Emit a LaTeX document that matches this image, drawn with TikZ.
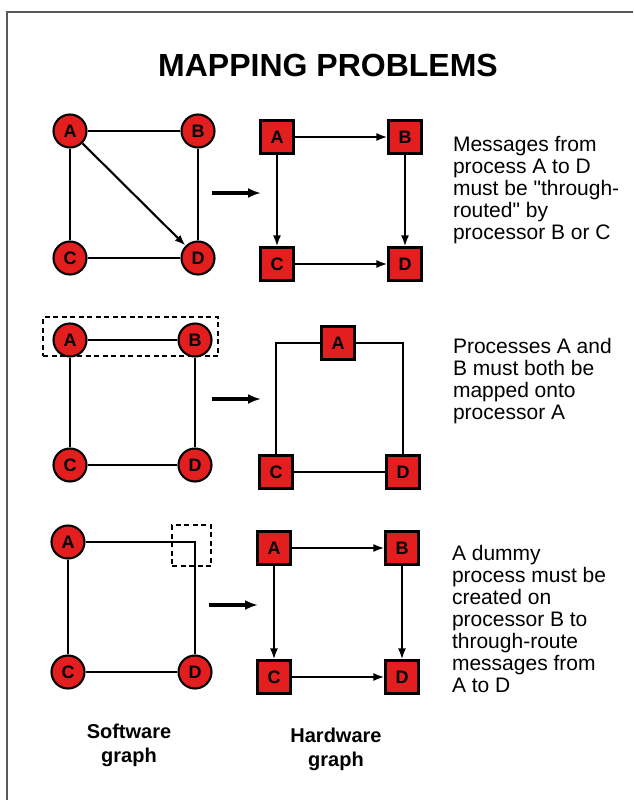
\documentclass[tikz,border=0pt]{standalone}
\usepackage{fontspec}
\setmainfont{Liberation Sans}
\usetikzlibrary{arrows.meta}
\definecolor{procred}{RGB}{226,30,30}
\begin{document}
\begin{tikzpicture}[x=1pt, y=-1pt, line width=2.1pt,
  swnode/.style={circle, draw, fill=procred, minimum size=33pt, inner sep=0pt, font=\bfseries\fontsize{18}{18}\selectfont},
  hwnode/.style={rectangle, draw, fill=procred, minimum size=33pt, inner sep=0pt, font=\bfseries\fontsize{18}{18}\selectfont},
  link/.style={-{Latex[length=11pt,width=8pt]}},
  maparrow/.style={line width=3.2pt, -{Latex[length=13pt,width=10pt]}},
  groupbox/.style={draw, line width=1.4pt, dash pattern=on 5pt off 3.5pt, inner sep=0pt},
  note/.style={anchor=north west, align=left, inner sep=0pt, font=\fontsize{21}{22}\selectfont},
  caption/.style={align=center, inner sep=0pt, font=\bfseries\fontsize{20}{24}\selectfont}]
  \useasboundingbox (0,0) rectangle (633,800);
  % 테두리
  \draw[line width=1.3pt, black!65] (7,800) -- (7,12) -- (633,12);
  \node[font=\bfseries\fontsize{32}{32}\selectfont] (title) at (328,65) {MAPPING PROBLEMS};
  % 1
  \node[swnode] (A1) at (70,131) {A}; \node[swnode] (B1) at (198,131) {B};
  \node[swnode] (C1) at (70,258) {C}; \node[swnode] (D1) at (198,258) {D};
  \draw (A1) -- (B1) (A1) -- (C1) (B1) -- (D1) (C1) -- (D1);
  \draw[link] (A1) -- (D1);
  \coordinate (m1a) at (212,193); \coordinate (m1b) at (261,193);
  \draw[maparrow] (m1a) -- (m1b);
  \node[hwnode] (hA1) at (277,137) {A}; \node[hwnode] (hB1) at (405,137) {B};
  \node[hwnode] (hC1) at (277,264) {C}; \node[hwnode] (hD1) at (405,264) {D};
  \draw[link] (hA1) -- (hB1); \draw[link] (hA1) -- (hC1);
  \draw[link] (hB1) -- (hD1); \draw[link] (hC1) -- (hD1);
  \node[note] (txt1) at (452,135) {Messages from\\process A to D\\must be \textquotedbl through-\\routed\textquotedbl{} by\\processor B or C};
  % 2
  \node[groupbox, minimum width=175pt, minimum height=39pt] (grp) at (130.5,336.5) {};
  \node[swnode] (A2) at (70,340) {A}; \node[swnode] (B2) at (195,340) {B};
  \node[swnode] (C2) at (70,465) {C}; \node[swnode] (D2) at (195,465) {D};
  \draw (A2) -- (B2) (A2) -- (C2) (B2) -- (D2) (C2) -- (D2);
  \coordinate (m2a) at (212,399); \coordinate (m2b) at (261,399);
  \draw[maparrow] (m2a) -- (m2b);
  \node[hwnode] (hA2) at (338,343) {A};
  \node[hwnode] (hC2) at (276,472) {C}; \node[hwnode] (hD2) at (403,472) {D};
  \draw (hA2.west) -| (hC2.north); \draw (hA2.east) -| (hD2.north);
  \draw (hC2) -- (hD2);
  \node[note] (txt2) at (452,337) {Processes A and\\B must both be\\mapped onto\\processor A};
  % 3
  \node[groupbox, minimum width=39pt, minimum height=41pt] (dummy) at (191.5,545.5) {};
  \node[swnode] (A3) at (68,542) {A};
  \node[swnode] (C3) at (68,672) {C}; \node[swnode] (D3) at (195,672) {D};
  \draw (A3.east) -| (D3.north);
  \draw (A3) -- (C3) (C3) -- (D3);
  \coordinate (m3a) at (209,605); \coordinate (m3b) at (258,605);
  \draw[maparrow] (m3a) -- (m3b);
  \node[hwnode] (hA3) at (274,548) {A}; \node[hwnode] (hB3) at (402,548) {B};
  \node[hwnode] (hC3) at (274,677) {C}; \node[hwnode] (hD3) at (402,677) {D};
  \draw[link] (hA3) -- (hB3); \draw[link] (hA3) -- (hC3);
  \draw[link] (hB3) -- (hD3); \draw[link] (hC3) -- (hD3);
  \node[note] (txt3) at (451,544) {A dummy\\process must be\\created on\\processor B to\\through-route\\messages from\\A to D};
  % 아래 제목
  \node[caption] (swcap) at (129,745) {Software\\graph};
  \node[caption] (hwcap) at (336,749) {Hardware\\graph};
\end{tikzpicture}
\end{document}
